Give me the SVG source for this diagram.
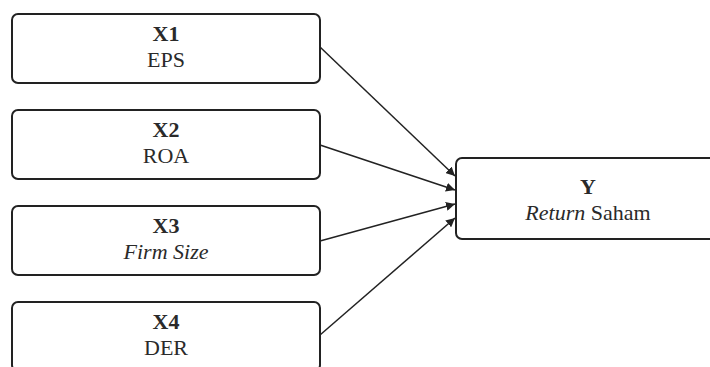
<svg xmlns="http://www.w3.org/2000/svg" width="710" height="367" viewBox="0 0 710 367">
<style>
.box{fill:#fff;stroke:#222;stroke-width:2}
.t{font-family:"Liberation Serif","Times New Roman","DejaVu Serif",serif;font-size:22px;fill:#2a2a2a;text-anchor:middle}
.b{font-weight:bold}
.i{font-style:italic}
.c{stroke:#222;stroke-width:1.5;fill:none;marker-end:url(#ah)}
</style>
<defs>
<marker id="ah" viewBox="0 0 10 10" refX="10" refY="5" markerWidth="9" markerHeight="9" markerUnits="userSpaceOnUse" orient="auto">
<path d="M0,0 L10,5 L0,10 z" fill="#222"/>
</marker>
</defs>
<rect width="710" height="367" fill="#fff"/>
<g id="connectors">
<line class="c" x1="320" y1="47" x2="455" y2="176"/>
<line class="c" x1="320" y1="145" x2="455" y2="190"/>
<line class="c" x1="320" y1="241" x2="455" y2="204"/>
<line class="c" x1="320" y1="335" x2="455" y2="218"/>
</g>
<g id="x1">
<rect class="box" x="12" y="14" width="308" height="69" rx="6"/>
<text class="t b" x="166" y="41">X1</text>
<text class="t" x="166" y="67">EPS</text>
</g>
<g id="x2">
<rect class="box" x="12" y="110" width="308" height="69" rx="6"/>
<text class="t b" x="166" y="137">X2</text>
<text class="t" x="166" y="163">ROA</text>
</g>
<g id="x3">
<rect class="box" x="12" y="206" width="308" height="69" rx="6"/>
<text class="t b" x="166" y="233">X3</text>
<text class="t i" x="166" y="259">Firm Size</text>
</g>
<g id="x4">
<rect class="box" x="12" y="302" width="308" height="69" rx="6"/>
<text class="t b" x="166" y="329">X4</text>
<text class="t" x="166" y="355">DER</text>
</g>
<g id="y">
<rect class="box" x="456" y="158" width="264" height="81" rx="6"/>
<text class="t b" x="588" y="194">Y</text>
<text class="t" x="588" y="220"><tspan class="i">Return</tspan> Saham</text>
</g>
</svg>
